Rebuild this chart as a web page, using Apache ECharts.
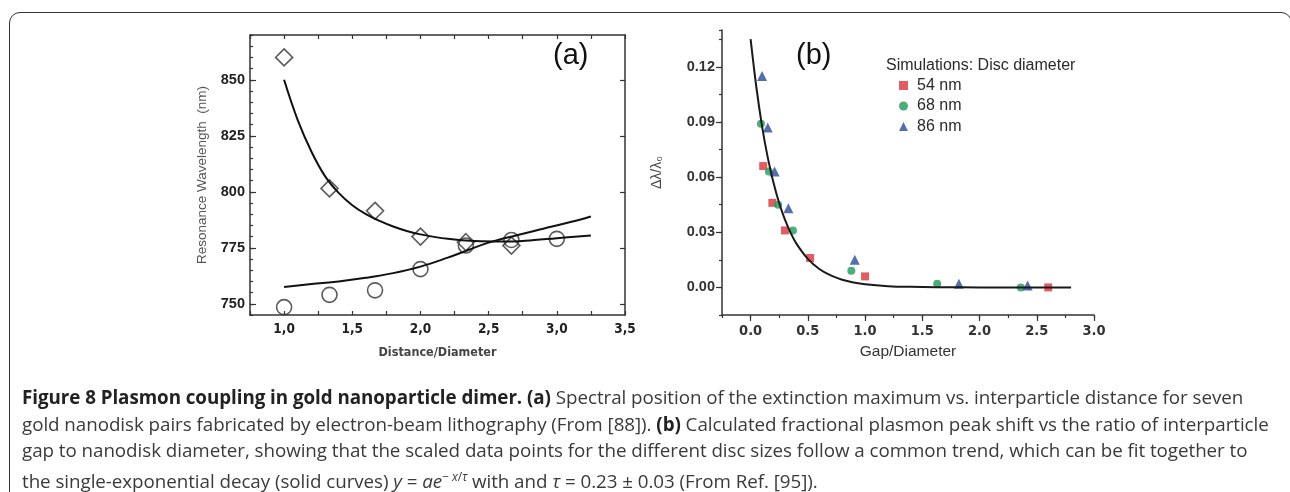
<!DOCTYPE html>
<html><head><meta charset="utf-8">
<script src="https://cdn.jsdelivr.net/npm/echarts@6/dist/echarts.min.js"></script>
<style>
html,body{margin:0;padding:0;background:#fff;width:1290px;height:492px;overflow:hidden;position:relative;}
#frame{position:absolute;left:9px;top:12px;width:1283px;height:600px;border:1.5px solid #333;border-radius:11px;box-sizing:border-box;}
#chart{position:absolute;left:0;top:0;width:1290px;height:492px;}
#caption{position:absolute;left:22px;top:384px;font-family:'Open Sans',sans-serif;font-size:18.8px;line-height:26.6px;color:#3a3a3a;white-space:nowrap;letter-spacing:-0.05px;}
#caption b{color:#222;font-weight:700;}
</style></head><body>
<div id="frame"></div>
<div id="chart"></div>
<div id="caption">
<div><b>Figure 8 Plasmon coupling in gold nanoparticle dimer.</b> <b>(a)</b> Spectral position of the extinction maximum vs. interparticle distance for seven</div>
<div>gold nanodisk pairs fabricated by electron-beam lithography (From [88]). <b>(b)</b> Calculated fractional plasmon peak shift vs the ratio of interparticle</div>
<div>gap to nanodisk diameter, showing that the scaled data points for the different disc sizes follow a common trend, which can be fit together to</div>
<div>the single-exponential decay (solid curves) <i>y</i> = <i>ae</i><sup style="font-size:12px">− <i>x</i>/<i>τ</i></sup> with and <i>τ</i> = 0.23 ± 0.03 (From Ref. [95]).</div>
</div>
<script>
// ---------- Panel (a) data ----------
const distDiamond = [1.0, 1.333, 1.667, 2.0, 2.333, 2.667];
const waveDiamond = [860, 801.5, 791.5, 780, 777.5, 776];
const distCircle = [1.0, 1.333, 1.667, 2.0, 2.333, 2.667, 3.0];
const waveCircle = [748.5, 754, 756, 765.5, 776, 778.5, 779];
const fitDownX = [1.0, 1.1, 1.2, 1.3, 1.4, 1.5, 1.6, 1.7, 1.8, 1.9, 2.0, 2.2, 2.4, 2.6, 2.8, 3.0, 3.25];
const fitDownY = [850, 832, 818, 807, 799.5, 794, 790, 787, 784.5, 782.5, 781, 779, 778, 777.8, 778.3, 779.3, 780.5];
const fitUpX = [1.0, 1.2, 1.4, 1.6, 1.8, 2.0, 2.2, 2.35, 2.5, 2.7, 2.9, 3.1, 3.25];
const fitUpY = [757.5, 758.8, 760, 761.6, 763.7, 766.6, 770.6, 774, 777.3, 780.5, 783.5, 786.5, 789];
const yTicksA = [750, 775, 800, 825, 850];

// ---------- Panel (b) data ----------
const gap54 = [0.11, 0.19, 0.30, 0.52, 1.0, 2.6];
const val54 = [0.066, 0.046, 0.031, 0.016, 0.006, 0.0];
const gap68 = [0.09, 0.16, 0.24, 0.37, 0.88, 1.63, 2.36];
const val68 = [0.089, 0.063, 0.045, 0.031, 0.009, 0.002, 0.0];
const gap86 = [0.10, 0.15, 0.21, 0.33, 0.91, 1.82, 2.42];
const val86 = [0.115, 0.087, 0.063, 0.043, 0.015, 0.002, 0.001];
const fitBX = [0, 0.05, 0.1, 0.15, 0.2, 0.25, 0.3, 0.35, 0.4, 0.5, 0.6, 0.7, 0.8, 0.9, 1.0, 1.2, 1.4, 1.7, 2.0, 2.4, 2.8];
const fitBY = [0.135, 0.109, 0.0876, 0.0706, 0.0569, 0.0458, 0.0369, 0.0297, 0.0238, 0.0155, 0.0100, 0.0065, 0.0042, 0.0027, 0.0017, 0.0007, 0.0003, 0.0001, 0, 0, 0];
const xTicksB = [0, 0.5, 1.0, 1.5, 2.0, 2.5, 3.0];
const yTicksB = [0, 0.03, 0.06, 0.09, 0.12];
const seriesNamesB = ['54 nm', '68 nm', '86 nm'];

const zip = (xs, ys) => xs.map((x, i) => [x, ys[i]]);
const sans = "'Liberation Sans', Arial, sans-serif";
const narrow = "'Liberation Sans Narrow', 'DejaVu Sans Condensed', 'Liberation Sans', sans-serif";
const axisColor = '#333';

const chart = echarts.init(document.getElementById('chart'), null, {renderer: 'canvas'});
const option = {
  animation: false,
  textStyle: {fontFamily: sans},
  title: [
    {text: '(a)', left: 553, top: 41, padding: 0, textStyle: {fontSize: 29, fontWeight: 'normal', color: '#111', fontFamily: sans}},
    {text: '(b)', left: 796, top: 41, padding: 0, textStyle: {fontSize: 29, fontWeight: 'normal', color: '#111', fontFamily: sans}},
    {text: 'Simulations: Disc diameter', left: 886, top: 58, padding: 0, textStyle: {fontSize: 16, fontWeight: 'normal', color: '#2a2a2a', fontFamily: sans}}
  ],
  legend: {
    orient: 'vertical', left: 899, top: 77, padding: 0, itemWidth: 9, itemHeight: 9, itemGap: 3.5,
    data: seriesNamesB,
    textStyle: {fontSize: 16, color: '#2a2a2a', lineHeight: 17, padding: [0, 0, 0, 4], fontFamily: sans}
  },
  grid: [
    {left: 250, top: 35, width: 375, height: 280},
    {left: 722, top: 30, width: 372, height: 285}
  ],
  xAxis: [
    {gridIndex: 0, type: 'value', position: 'bottom', min: 0.75, max: 3.5, interval: 0.25,
     axisLine: {onZero: false, lineStyle: {color: axisColor, width: 1.5}},
     axisTick: {inside: true, length: 4, lineStyle: {color: axisColor, width: 1.2}},
     splitLine: {show: false},
     axisLabel: {margin: 7, fontSize: 13.5, fontWeight: 'bold', fontFamily: narrow, color: '#222',
       formatter: v => Math.abs(v * 2 - Math.round(v * 2)) < 1e-6 ? v.toFixed(1).replace('.', ',') : ''},
     name: 'Distance/Diameter', nameLocation: 'middle', nameGap: 31,
     nameTextStyle: {fontSize: 12.5, color: '#444', fontFamily: narrow, fontWeight: 'bold'}},
    {gridIndex: 0, type: 'value', position: 'top', min: 0.75, max: 3.5, interval: 0.25,
     axisLine: {onZero: false, lineStyle: {color: axisColor, width: 1.5}},
     axisTick: {inside: true, length: 4, lineStyle: {color: axisColor, width: 1.2}},
     splitLine: {show: false}, axisLabel: {show: false}},
    {gridIndex: 1, type: 'value', position: 'bottom', min: -0.25, max: 3.0, interval: 0.25,
     axisLine: {onZero: false, lineStyle: {color: axisColor, width: 1.5}},
     axisTick: {inside: false, length: 3, lineStyle: {color: axisColor, width: 1.2}},
     splitLine: {show: false}, axisLabel: {show: false}},
    {gridIndex: 1, type: 'value', position: 'bottom', min: -0.25, max: 3.0,
     axisLine: {show: false, onZero: false},
     axisTick: {inside: false, length: 6, customValues: xTicksB, lineStyle: {color: axisColor, width: 1.2}},
     splitLine: {show: false},
     axisLabel: {customValues: xTicksB, margin: 9, fontSize: 14.5, fontWeight: 'bold', fontFamily: narrow, color: '#333',
       formatter: v => v.toFixed(1)},
     name: 'Gap/Diameter', nameLocation: 'middle', nameGap: 29,
     nameTextStyle: {fontSize: 15.5, color: '#333', fontFamily: sans}}
  ],
  yAxis: [
    {gridIndex: 0, type: 'value', position: 'left', min: 745, max: 870, interval: 5,
     axisLine: {onZero: false, lineStyle: {color: axisColor, width: 1.5}},
     axisTick: {inside: true, length: 3, lineStyle: {color: axisColor, width: 1.2}},
     splitLine: {show: false}, axisLabel: {show: false},
     name: 'Resonance Wavelength  (nm)', nameLocation: 'middle', nameGap: 41, nameRotate: 90,
     nameTextStyle: {fontSize: 13.5, color: '#555', fontFamily: sans}},
    {gridIndex: 0, type: 'value', position: 'left', min: 745, max: 870,
     axisLine: {show: false, onZero: false},
     axisTick: {inside: true, length: 6, customValues: yTicksA, lineStyle: {color: axisColor, width: 1.2}},
     splitLine: {show: false},
     axisLabel: {customValues: yTicksA, margin: 5, fontSize: 14.5, fontWeight: 'bold', color: '#222', fontFamily: sans}},
    {gridIndex: 0, type: 'value', position: 'right', min: 745, max: 870,
     axisLine: {onZero: false, lineStyle: {color: axisColor, width: 1.5}},
     axisTick: {inside: true, length: 5, customValues: yTicksA, lineStyle: {color: axisColor, width: 1.2}},
     splitLine: {show: false}, axisLabel: {show: false}},
    {gridIndex: 1, type: 'value', position: 'left', min: -0.015, max: 0.14, interval: 0.015,
     axisLine: {onZero: false, lineStyle: {color: axisColor, width: 1.5}},
     axisTick: {inside: false, length: 3, lineStyle: {color: axisColor, width: 1.2}},
     splitLine: {show: false}, axisLabel: {show: false},
     name: 'Δλ/λ₀', nameLocation: 'middle', nameGap: 58, nameRotate: 90,
     nameTextStyle: {fontSize: 14, color: '#444', fontFamily: sans}},
    {gridIndex: 1, type: 'value', position: 'left', min: -0.015, max: 0.14,
     axisLine: {show: false, onZero: false},
     axisTick: {inside: false, length: 6, customValues: yTicksB, lineStyle: {color: axisColor, width: 1.2}},
     splitLine: {show: false},
     axisLabel: {customValues: yTicksB, margin: 7, fontSize: 14.5, fontWeight: 'bold', color: '#333', fontFamily: sans,
       formatter: v => v.toFixed(2)}}
  ],
  series: [
    {type: 'line', xAxisIndex: 0, yAxisIndex: 0, data: zip(fitDownX, fitDownY), smooth: 0.4, symbol: 'none',
     lineStyle: {color: '#111', width: 2}, silent: true},
    {type: 'line', xAxisIndex: 0, yAxisIndex: 0, data: zip(fitUpX, fitUpY), smooth: 0.4, symbol: 'none',
     lineStyle: {color: '#111', width: 2}, silent: true},
    {type: 'scatter', xAxisIndex: 0, yAxisIndex: 0, data: zip(distDiamond, waveDiamond), symbol: 'diamond', symbolSize: 17,
     itemStyle: {color: 'rgba(255,255,255,0)', borderColor: '#333', borderWidth: 1.6}},
    {type: 'scatter', xAxisIndex: 0, yAxisIndex: 0, data: zip(distCircle, waveCircle), symbol: 'circle', symbolSize: 15,
     itemStyle: {color: 'rgba(255,255,255,0)', borderColor: '#333', borderWidth: 1.6}},
    {type: 'line', xAxisIndex: 2, yAxisIndex: 3, data: zip(fitBX, fitBY), smooth: 0.4, symbol: 'none',
     lineStyle: {color: '#1a1a1a', width: 2}, silent: true},
    {name: seriesNamesB[0], type: 'scatter', xAxisIndex: 2, yAxisIndex: 3, data: zip(gap54, val54), symbol: 'rect', symbolSize: 8,
     itemStyle: {color: '#d9353d'}},
    {name: seriesNamesB[1], type: 'scatter', xAxisIndex: 2, yAxisIndex: 3, data: zip(gap68, val68), symbol: 'circle', symbolSize: 8,
     itemStyle: {color: '#1f9a5b'}},
    {name: seriesNamesB[2], type: 'scatter', xAxisIndex: 2, yAxisIndex: 3, data: zip(gap86, val86), symbol: 'triangle', symbolSize: 10,
     itemStyle: {color: '#2b4a97'}}
  ]
};
chart.setOption(option);
</script>
</body></html>
